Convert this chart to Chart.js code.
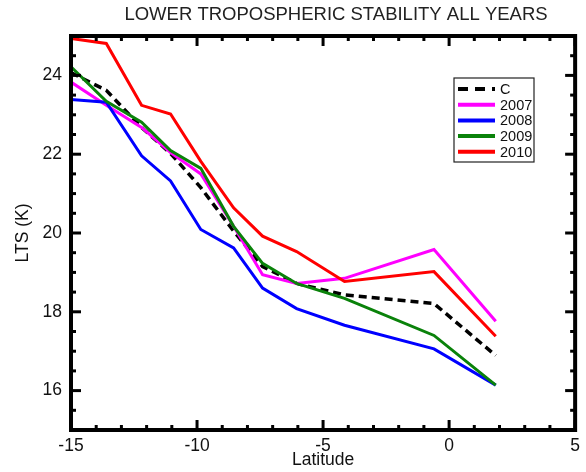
<!DOCTYPE html>
<html>
<head>
<meta charset="utf-8">
<script src="https://cdn.jsdelivr.net/npm/chart.js@4.4.0/dist/chart.umd.min.js"></script>
<style>
  html, body { margin: 0; padding: 0; background: #fff; }
  #caixa { width: 586px; height: 472px; }
</style>
</head>
<body>
<div id="caixa"><canvas id="graficoLTS" width="586" height="472"></canvas></div>
<script>
// latitude of each bin
var latitudes = [-15, -13.6, -12.2, -11.05, -9.85, -8.55, -7.4, -6.05, -4.15, -0.6, 1.85];

// LTS (K) per series
var ltsC    = [24.07, 23.62, 22.68, 22.02, 21.15, 20.05, 19.15, 18.72, 18.43, 18.21, 16.89];
var lts2007 = [23.83, 23.24, 22.68, 22.04, 21.50, 20.17, 18.94, 18.72, 18.85, 19.58, 17.76];
var lts2008 = [23.39, 23.32, 21.96, 21.32, 20.09, 19.62, 18.60, 18.08, 17.66, 17.06, 16.14];
var lts2009 = [24.22, 23.34, 22.81, 22.09, 21.64, 20.17, 19.23, 18.72, 18.34, 17.40, 16.14];
var lts2010 = [24.94, 24.81, 23.24, 23.02, 21.82, 20.64, 19.92, 19.53, 18.77, 19.02, 17.38];

var nomes = ['C', '2007', '2008', '2009', '2010'];
var xTicks = [-15, -10, -5, 0, 5];
var yTicks = [16, 18, 20, 22, 24];

function pontos(valores) {
    var out = [];
    for (var i = 0; i < latitudes.length; i++) {
        out.push({ x: latitudes[i], y: valores[i] });
    }
    return out;
}

function serie(nome, valores, cor, ordem, tracejado) {
    return {
        label: nome,
        data: pontos(valores),
        borderColor: cor,
        backgroundColor: cor,
        borderWidth: tracejado ? 3.5 : 3,
        borderDash: tracejado ? [8, 5] : [],
        pointRadius: 0,
        tension: 0,
        fill: false,
        order: ordem
    };
}

var fonte = "'Liberation Sans', Arial, Helvetica, sans-serif";

// frame, inward ticks, legend and title
var molduraPlugin = {
    id: 'moldura',
    afterDraw: function(chart) {
        var ctx = chart.ctx;
        var a = chart.chartArea;
        var sx = chart.scales.x;
        var sy = chart.scales.y;
        ctx.save();
        ctx.strokeStyle = '#000';
        ctx.lineCap = 'butt';
        ctx.lineWidth = 3;

        function linha(x1, y1, x2, y2) {
            ctx.beginPath();
            ctx.moveTo(x1, y1);
            ctx.lineTo(x2, y2);
            ctx.stroke();
        }

        for (var v = -15; v <= 5; v++) {
            var px = sx.getPixelForValue(v);
            var len = (v % 5 === 0) ? 10 : 5;
            linha(px, a.bottom, px, a.bottom - len);
            linha(px, a.top, px, a.top + len);
        }
        for (var w = 15; w <= 25; w += 0.5) {
            var py = sy.getPixelForValue(w);
            var len2 = (w % 2 === 0) ? 10 : 5;
            linha(a.left, py, a.left + len2, py);
            linha(a.right, py, a.right - len2, py);
        }
        ctx.lineWidth = 4;
        ctx.strokeRect(a.left, a.top, a.right - a.left, a.bottom - a.top);

        // legend box
        var lx = 454, ly = 78, lw = 80, lh = 84;
        ctx.lineWidth = 1.2;
        ctx.strokeStyle = '#222';
        ctx.strokeRect(lx, ly, lw, lh);
        ctx.font = '14.5px ' + fonte;
        ctx.textBaseline = 'middle';
        ctx.textAlign = 'left';
        var ds = chart.data.datasets;
        for (var i = 0; i < ds.length; i++) {
            var yy = 89 + i * 15.7;
            ctx.strokeStyle = ds[i].borderColor;
            ctx.lineWidth = 4;
            ctx.setLineDash(ds[i].borderDash.length ? [10, 7] : []);
            linha(458, yy, 495, yy);
            ctx.setLineDash([]);
            ctx.fillStyle = '#111';
            ctx.fillText(ds[i].label, 500, yy + 1);
        }

        // title
        ctx.font = '18.5px ' + fonte;
        ctx.textAlign = 'center';
        ctx.fillStyle = '#222';
        ctx.fillText('LOWER TROPOSPHERIC STABILITY ALL YEARS', 336, 15);
        ctx.restore();
    }
};

var contexto = document.getElementById('graficoLTS').getContext('2d');

var grafico = new Chart(contexto, {
    type: 'line',
    data: {
        datasets: [
            serie(nomes[0], ltsC, '#000000', 5, true),
            serie(nomes[1], lts2007, '#FF00FF', 4, false),
            serie(nomes[2], lts2008, '#0000FF', 3, false),
            serie(nomes[3], lts2009, '#0A820A', 2, false),
            serie(nomes[4], lts2010, '#FF0000', 1, false)
        ]
    },
    options: {
        responsive: false,
        animation: false,
        devicePixelRatio: 1,
        layout: { padding: { left: 0, right: 3, top: 36, bottom: 0 } },
        plugins: {
            legend: { display: false },
            title: { display: false },
            tooltip: { enabled: false }
        },
        scales: {
            x: {
                type: 'linear',
                min: -15,
                max: 5,
                afterBuildTicks: function(s) {
                    s.ticks = xTicks.map(function(v) { return { value: v }; });
                },
                afterFit: function(s) { s.height = 42; },
                grid: { display: false, drawTicks: false },
                border: { display: false },
                ticks: {
                    color: '#111',
                    font: { family: fonte, size: 17.5 },
                    padding: 6,
                    maxRotation: 0,
                    autoSkip: false
                },
                title: {
                    display: true,
                    text: 'Latitude',
                    color: '#111',
                    font: { family: fonte, size: 17.5 },
                    padding: { top: 0, bottom: 1 }
                }
            },
            y: {
                type: 'linear',
                min: 15,
                max: 25,
                afterBuildTicks: function(s) {
                    s.ticks = yTicks.map(function(v) { return { value: v }; });
                },
                afterFit: function(s) { s.width = 71; },
                grid: { display: false, drawTicks: false },
                border: { display: false },
                ticks: {
                    color: '#111',
                    font: { family: fonte, size: 17.5 },
                    padding: 9
                },
                title: {
                    display: true,
                    text: 'LTS (K)',
                    color: '#111',
                    font: { family: fonte, size: 17.5 },
                    padding: { top: 13, bottom: 0 }
                }
            }
        }
    },
    plugins: [molduraPlugin]
});
</script>
</body>
</html>
